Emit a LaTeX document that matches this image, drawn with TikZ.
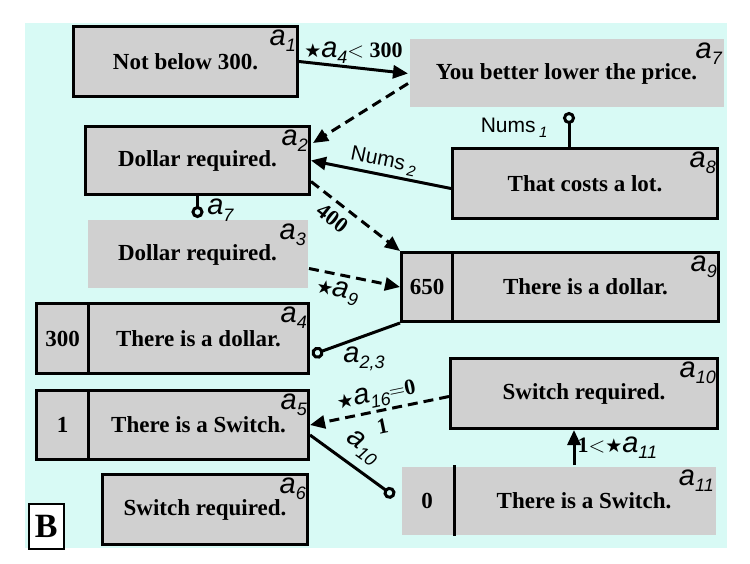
\documentclass[tikz,border=0pt]{standalone}
\usepackage{fix-cm}
\usepackage{fontspec}
\setmainfont{Liberation Serif}
\newfontfamily\sansf{Liberation Sans}
\newfontfamily\symf{DejaVu Sans}
\usetikzlibrary{arrows.meta}
\definecolor{bgcyan}{RGB}{216,250,245}
\definecolor{boxgray}{RGB}{208,208,208}
\newcommand{\argn}[1]{{\sansf\mdseries\itshape\fontsize{29}{29}\selectfont a\raisebox{-6pt}{\fontsize{18}{18}\selectfont #1}}}
\newcommand{\numsub}[1]{Nums\,\raisebox{-5pt}{\fontsize{15}{15}\selectfont\itshape #1}}
\newcommand{\starm}{{\symf\mdseries\fontsize{19}{19}\selectfont ★}}

\begin{document}
\begin{tikzpicture}[x=1pt, y=-1pt,
  box/.style={draw, line width=3pt, fill=boxgray, anchor=north west, inner sep=0pt, font=\fontsize{23}{23}\selectfont\bfseries},
  flat/.style={box, draw=none},
  idx/.style={anchor=north east, inner xsep=3pt, inner ysep=5pt},
  lbl/.style={font=\fontsize{22}{22}\selectfont\bfseries, inner sep=2pt},
  nums/.style={font=\sansf\fontsize{21}{21}\selectfont, inner sep=2pt},
  link/.style={line width=3pt, -{Triangle[length=15pt,width=13pt]}},
  dlink/.style={link, dash pattern=on 10pt off 6pt},
  pin/.style={line width=3pt, -{Circle[open,length=12pt,width=12pt]}}]
\useasboundingbox (0,0) rectangle (750,564);
\fill[bgcyan] (25,23) rectangle (727,548);

\node[box, minimum width=224pt, minimum height=70pt, label={[idx]north east:\argn{1}}] (a1) at (72,25) {Not below 300.};
\node[flat, minimum width=314pt, minimum height=68pt, label={[idx]north east:\argn{7}}] (a7) at (408,38) {You better lower the price.};
\node[box, minimum width=224pt, minimum height=68pt, label={[idx]north east:\argn{2}}] (a2) at (84,125) {Dollar required.};
\node[box, minimum width=265pt, minimum height=70pt, label={[idx]north east:\argn{8}}] (a8) at (451,147) {That costs a lot.};
\node[flat, minimum width=220pt, minimum height=68pt, label={[idx]north east:\argn{3}}] (a3) at (86,219) {Dollar required.};
\node[box, minimum width=51pt, minimum height=69pt] (a9n) at (400,251) {650};
\node[box, minimum width=266pt, minimum height=69pt, label={[idx]north east:\argn{9}}] (a9) at (451,251) {There is a dollar.};
\node[box, minimum width=52pt, minimum height=70pt] (a4n) at (35,302) {300};
\node[box, minimum width=220pt, minimum height=70pt, label={[idx]north east:\argn{4}}] (a4) at (87,302) {There is a dollar.};
\node[box, minimum width=52pt, minimum height=69pt] (a5n) at (35,389) {1};
\node[box, minimum width=220pt, minimum height=69pt, label={[idx]north east:\argn{5}}] (a5) at (87,389) {There is a Switch.};
\node[box, minimum width=205pt, minimum height=70pt, label={[idx]north east:\argn{6}}] (a6) at (101,473) {Switch required.};
\node[box, minimum width=267pt, minimum height=70pt, label={[idx]north east:\argn{10}}] (a10) at (449,357) {Switch required.};
\node[flat, minimum width=51pt, minimum height=68pt] (a11n) at (400,465) {0};
\node[flat, minimum width=263pt, minimum height=68pt, label={[idx]north east:\argn{11}}] (a11) at (451,465) {There is a Switch.};
\draw[line width=3pt] (a11n.north east) -- (a11n.south east);
\node[draw, fill=white, line width=1.5pt, anchor=north west, inner sep=0pt, minimum width=35pt, minimum height=45pt, font=\fontsize{34}{34}\selectfont\bfseries] (tag) at (28,503) {B};

\draw[link] (a1.east) -- (a7.west) node[lbl, midway, above] {\starm\argn{4}$<$ 300};
\draw[dlink] ([yshift=-10pt]a7.west) -- ([shift={(2pt,-18pt)}]a2.north east);
\draw[link] ([yshift=-5pt]a8.west) -- (a2.east) node[nums, midway, above, sloped] {\numsub{2}};
\coordinate (p8) at ([xshift=-16pt]a8.north);
\draw[pin, shorten >=3pt] (p8) -- (p8 |- a7.south) node[nums, midway, left=18pt] {\numsub{1}};
\coordinate (p2) at ([yshift=-22pt]a2.south);
\draw[pin] (a2.south) -- (p2) node[anchor=base west, xshift=5pt, yshift=3pt] {\argn{7}};
\draw[dlink] ([yshift=-21pt]a2.east) -- (a9n.north west) node[lbl, pos=0.35, below=5pt, sloped] {400};
\draw[dlink] ([yshift=-14pt]a3.east) -- (a9n.west) node[lbl, pos=0.35, below=3pt, sloped] {\starm\argn{9}};
\draw[pin, shorten >=2pt] (a9n.south west) -- ([yshift=-17pt]a4.east) node[pos=0.4, below=6pt] {\argn{2,3}};
\draw[dlink] ([yshift=-3pt]a10.west) -- (a5.east) node[lbl, midway, above, sloped] {\starm\argn{16}$=$0} node[lbl, midway, below=5pt, sloped] {1};
\draw[pin, shorten >=7pt] ([yshift=-10pt]a5.east) -- (a11n.west) node[pos=0.45, above=5pt, sloped] {\argn{10}};
\draw[link] ([xshift=-10pt]a11.north) -- ([xshift=-10pt]a10.south) node[lbl, midway, right] {1$<$\starm\argn{11}};
\end{tikzpicture}
\end{document}
